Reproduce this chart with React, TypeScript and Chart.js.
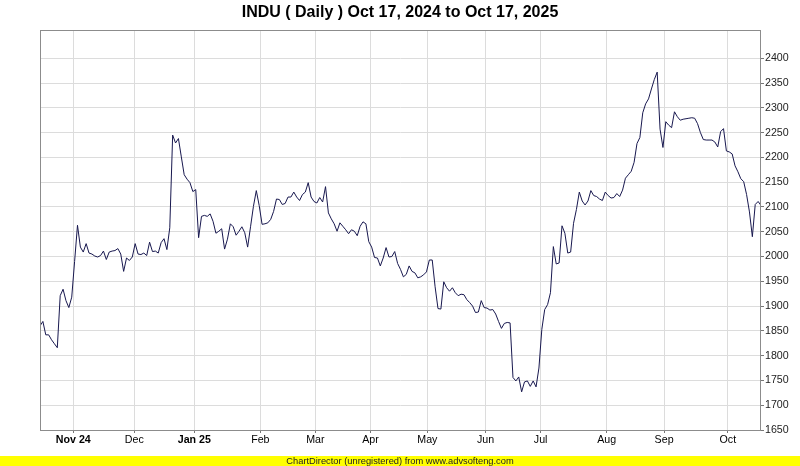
import React, { useEffect, useRef } from 'react';
import { Chart, registerables } from 'chart.js';

Chart.register(...registerables);

const TITLE = 'INDU ( Daily ) Oct 17, 2024 to Oct 17, 2025';
const FOOTER = 'ChartDirector (unregistered) from www.advsofteng.com';

// Daily closes, Oct 17 2024 .. Oct 17 2025 (251 trading days)
const closes: number[] = [
  1860, 1869, 1842, 1842, 1832, 1824, 1816, 1921, 1934, 1911,
  1897, 1918, 1990, 2063, 2019, 2009, 2026, 2007, 2005, 2001,
  1999, 2002, 2011, 1994, 2009, 2011, 2012, 2016, 2005, 1970,
  1997, 1992, 1999, 2026, 2005, 2004, 2007, 2002, 2029, 2010,
  2011, 2007, 2028, 2036, 2014, 2058, 2245, 2229, 2238, 2201,
  2165, 2156, 2149, 2131, 2135, 2038, 2081, 2083, 2081, 2086,
  2071, 2047, 2051, 2056, 2015, 2035, 2066, 2060, 2043, 2051,
  2060, 2048, 2019, 2060, 2101, 2133, 2103, 2065, 2066, 2068,
  2075, 2091, 2116, 2115, 2105, 2107, 2120, 2120, 2130, 2120,
  2113, 2125, 2130, 2149, 2120, 2111, 2108, 2119, 2110, 2141,
  2088, 2076, 2066, 2051, 2068, 2061, 2054, 2046, 2054, 2051,
  2042, 2061, 2070, 2066, 2030, 2019, 1998, 1997, 1981, 1997,
  2018, 1999, 2000, 2010, 1986, 1974, 1959, 1964, 1981, 1970,
  1967, 1957, 1959, 1963, 1969, 1993, 1993, 1939, 1895, 1894,
  1949, 1937, 1930, 1937, 1927, 1921, 1924, 1923, 1913, 1907,
  1900, 1887, 1888, 1911, 1897, 1896, 1892, 1893, 1884, 1869,
  1855, 1865, 1867, 1866, 1756, 1749, 1757, 1727, 1747, 1749,
  1738, 1749, 1737, 1775, 1853, 1893, 1903, 1927, 2020, 1985,
  1987, 2062, 2047, 2007, 2009, 2067, 2095, 2130, 2112, 2104,
  2112, 2133, 2123, 2121, 2116, 2113, 2130, 2123, 2118, 2119,
  2127, 2121, 2134, 2158, 2165, 2172, 2190, 2228, 2240, 2290,
  2308, 2318, 2338, 2357, 2372, 2257, 2220, 2272, 2265, 2260,
  2292, 2282, 2275, 2277, 2278, 2279, 2280, 2279, 2268, 2250,
  2236, 2235, 2235, 2235, 2231, 2221, 2252, 2258, 2213, 2211,
  2207, 2183, 2171, 2157, 2151, 2125, 2090, 2040, 2105, 2111,
  2103,
];

const monthLabels: string[] = ['Nov 24', 'Dec', 'Jan 25', 'Feb', 'Mar', 'Apr', 'May', 'Jun', 'Jul', 'Aug', 'Sep', 'Oct'];
// position of each month start on the trading-day axis
const monthPositions: number[] = [11.55, 32.7, 53.5, 76.4, 95.5, 114.6, 134.3, 154.5, 173.6, 196.5, 216.4, 238.5];
const boldLabels: string[] = ['Nov 24', 'Jan 25'];
const yTickValues: number[] = [1650, 1700, 1750, 1800, 1850, 1900, 1950, 2000, 2050, 2100, 2150, 2200, 2250, 2300, 2350, 2400];
const Y_MIN = 1650;
const Y_MAX = 2457;

const FONT = '"Liberation Sans", Arial, Helvetica, sans-serif';

const decorPlugin = {
  id: 'decor',
  beforeDraw(chart: any) {
    const { ctx, width, height } = chart;
    ctx.save();
    ctx.fillStyle = '#ffffff';
    ctx.fillRect(0, 0, width, height);
    ctx.restore();
  },
  afterDraw(chart: any) {
    const { ctx, chartArea: a } = chart;
    ctx.save();
    // plot border
    ctx.strokeStyle = '#8c8c8c';
    ctx.lineWidth = 1;
    const l = Math.round(a.left) + 0.5;
    const t = Math.round(a.top) + 0.5;
    const r = Math.round(a.right) - 0.5;
    const b = Math.round(a.bottom) + 0.5;
    ctx.strokeRect(l, t, r - l, b - t);
    // title
    ctx.fillStyle = '#000000';
    ctx.font = `bold 16px ${FONT}`;
    ctx.textAlign = 'center';
    ctx.textBaseline = 'middle';
    ctx.fillText(TITLE, 400, 13);
    // footer banner
    ctx.fillStyle = '#ffff00';
    ctx.fillRect(0, 456, 800, 10);
    ctx.fillStyle = '#222222';
    ctx.font = `9.3px ${FONT}`;
    ctx.fillText(FOOTER, 400, 461);
    ctx.restore();
  },
};

export default function App() {
  const canvasRef = useRef<HTMLCanvasElement | null>(null);

  useEffect(() => {
    const canvas = canvasRef.current;
    if (!canvas) return;
    const chart = new Chart(canvas, {
      type: 'line',
      data: {
        datasets: [
          {
            data: closes.map((v, i) => ({ x: i, y: v })),
            borderColor: '#18184f',
            borderWidth: 1,
            pointRadius: 0,
            tension: 0,
            fill: false,
          },
        ],
      },
      options: {
        responsive: false,
        animation: false,
        devicePixelRatio: 1,
        layout: { padding: { top: 30, left: 40, right: 0, bottom: 0 } },
        plugins: {
          legend: { display: false },
          title: { display: false },
          tooltip: { enabled: false },
        },
        scales: {
          x: {
            type: 'linear',
            min: 0,
            max: closes.length - 1,
            afterBuildTicks: (s: any) => {
              s.ticks = monthPositions.map((v) => ({ value: v }));
            },
            afterFit: (s: any) => {
              s.height = 36;
            },
            grid: { color: '#dcdcdc', lineWidth: 1, drawTicks: true, tickLength: 3, tickColor: '#777777' },
            border: { display: false },
            ticks: {
              autoSkip: false,
              maxRotation: 0,
              minRotation: 0,
              padding: 1,
              color: '#000000',
              callback: (_v: any, i: number) => monthLabels[i],
              font: (ctx: any) => ({
                family: FONT,
                size: 10.67,
                weight: boldLabels.includes(monthLabels[ctx.index]) ? 'bold' : 'normal',
              }),
            },
          },
          y: {
            type: 'linear',
            position: 'right',
            min: Y_MIN,
            max: Y_MAX,
            afterBuildTicks: (s: any) => {
              s.ticks = yTickValues.map((v) => ({ value: v }));
            },
            afterFit: (s: any) => {
              s.width = 39;
            },
            grid: { color: '#dcdcdc', lineWidth: 1, drawTicks: true, tickLength: 3, tickColor: '#777777' },
            border: { display: false },
            ticks: {
              padding: 1,
              color: '#222222',
              font: { family: FONT, size: 10.67 },
              callback: (v: any) => String(v),
            },
          },
        },
      },
      plugins: [decorPlugin],
    });
    return () => chart.destroy();
  }, []);

  return (
    <div style={{ position: 'absolute', left: 0, top: 0, width: 800, height: 466 }}>
      <canvas ref={canvasRef} width={800} height={466} style={{ display: 'block', width: 800, height: 466 }} />
    </div>
  );
}
